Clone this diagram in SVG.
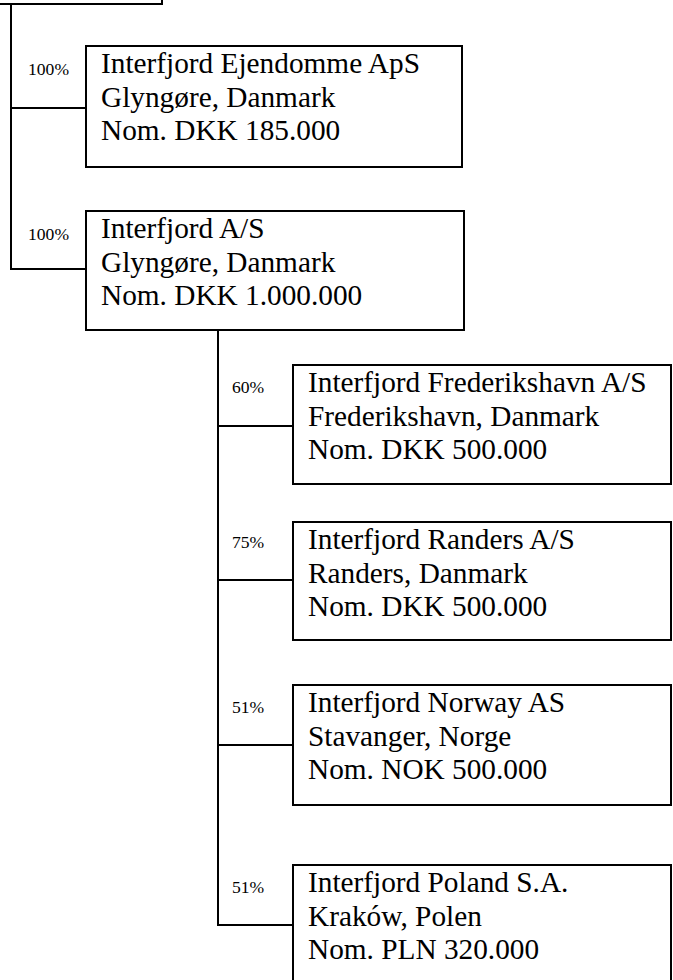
<svg xmlns="http://www.w3.org/2000/svg" width="673" height="980" viewBox="0 0 673 980">
<style>
.box{fill:#fff;stroke:#000;stroke-width:2}
.ln{fill:none;stroke:#000;stroke-width:2}
.t{font-family:"Liberation Serif","Times New Roman",serif;font-size:29.3px;fill:#000}
.p{font-family:"Liberation Serif","Times New Roman",serif;font-size:17.6px;fill:#000}
</style>
<rect width="673" height="980" fill="#fff"/>
<g id="connectors">
<path class="ln" d="M11,4 V269 H86"/>
<path class="ln" d="M11,108 H86"/>
<path class="ln" d="M218,330 V925 H293"/>
<path class="ln" d="M218,426 H293"/>
<path class="ln" d="M218,580 H293"/>
<path class="ln" d="M218,745 H293"/>
<text class="p" x="28" y="75">100%</text>
<text class="p" x="28" y="240">100%</text>
<text class="p" x="232" y="393">60%</text>
<text class="p" x="232" y="548">75%</text>
<text class="p" x="232" y="713">51%</text>
<text class="p" x="232" y="893">51%</text>
</g>
<g id="parent">
<rect class="box" x="-10" y="-20" width="172" height="24"/>
</g>
<g id="ejendomme">
<rect class="box" x="86" y="46" width="376" height="121"/>
<text class="t" x="101" y="73">Interfjord Ejendomme ApS</text>
<text class="t" x="101" y="106.5">Glyngøre, Danmark</text>
<text class="t" x="101" y="140">Nom. DKK 185.000</text>
</g>
<g id="interfjord-as">
<rect class="box" x="86" y="211" width="378" height="119"/>
<text class="t" x="101" y="238">Interfjord A/S</text>
<text class="t" x="101" y="271.5">Glyngøre, Danmark</text>
<text class="t" x="101" y="305">Nom. DKK 1.000.000</text>
</g>
<g id="frederikshavn">
<rect class="box" x="293" y="365" width="378" height="119"/>
<text class="t" x="308" y="392">Interfjord Frederikshavn A/S</text>
<text class="t" x="308" y="425.5">Frederikshavn, Danmark</text>
<text class="t" x="308" y="459">Nom. DKK 500.000</text>
</g>
<g id="randers">
<rect class="box" x="293" y="522" width="378" height="118"/>
<text class="t" x="308" y="549">Interfjord Randers A/S</text>
<text class="t" x="308" y="582.5">Randers, Danmark</text>
<text class="t" x="308" y="616">Nom. DKK 500.000</text>
</g>
<g id="norway">
<rect class="box" x="293" y="685" width="378" height="120"/>
<text class="t" x="308" y="712">Interfjord Norway AS</text>
<text class="t" x="308" y="745.5">Stavanger, Norge</text>
<text class="t" x="308" y="779">Nom. NOK 500.000</text>
</g>
<g id="poland">
<rect class="box" x="293" y="865" width="378" height="130"/>
<text class="t" x="308" y="892">Interfjord Poland S.A.</text>
<text class="t" x="308" y="925.5">Kraków, Polen</text>
<text class="t" x="308" y="959">Nom. PLN 320.000</text>
</g>
</svg>
